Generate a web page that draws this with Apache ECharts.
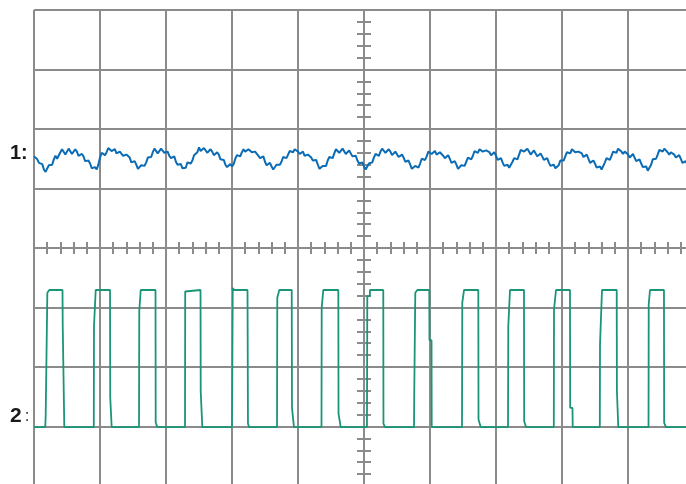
<!DOCTYPE html>
<html>
<head>
<meta charset="utf-8">
<script src="https://cdn.jsdelivr.net/npm/echarts@6/dist/echarts.min.js"></script>
<style>
html,body{margin:0;padding:0;background:#fff;}
#c{width:686px;height:484px;}
</style>
</head>
<body>
<div id="c"></div>
<script>
// Screen units: horizontal in divisions (0..10), vertical in divisions (-4..4)
var xDivTicks = [0, 10, 1];      // min, max, major interval
var yDivTicks = [-4, 4, 1];
var minorStep = 0.2;

// Channel 1 (blue) — sampled every 0.025 div, values in divisions
var ch1Step = 0.025;
var ch1Volt = [
1.54,1.56,1.49,1.43,1.44,1.41,1.32,1.28,1.30,1.39,1.40,1.40,1.49,1.55,1.50,1.52,1.61,1.66,1.64,1.57,
1.59,1.67,1.66,1.58,1.61,1.66,1.62,1.55,1.54,1.58,1.54,1.46,1.45,1.47,1.42,1.34,1.34,1.36,1.32,1.40,
1.52,1.60,1.59,1.56,1.61,1.68,1.69,1.63,1.64,1.66,1.59,1.57,1.62,1.63,1.55,1.52,1.57,1.58,1.52,1.44,
1.44,1.46,1.40,1.33,1.34,1.39,1.40,1.38,1.44,1.52,1.52,1.53,1.61,1.67,1.66,1.59,1.62,1.67,1.66,1.60,
1.61,1.62,1.55,1.51,1.54,1.54,1.45,1.40,1.42,1.41,1.34,1.32,1.35,1.44,1.45,1.42,1.47,1.56,1.57,1.61,
1.69,1.63,1.62,1.68,1.66,1.60,1.62,1.66,1.62,1.56,1.57,1.61,1.57,1.49,1.49,1.48,1.40,1.36,1.39,1.41,
1.37,1.41,1.50,1.56,1.54,1.54,1.61,1.66,1.62,1.60,1.66,1.67,1.61,1.58,1.62,1.63,1.55,1.51,1.54,1.54,
1.45,1.39,1.40,1.43,1.37,1.32,1.32,1.40,1.42,1.40,1.45,1.53,1.52,1.51,1.57,1.63,1.61,1.61,1.66,1.67,
1.62,1.58,1.61,1.62,1.55,1.52,1.57,1.59,1.52,1.47,1.50,1.48,1.40,1.33,1.32,1.38,1.37,1.38,1.47,1.53,
1.50,1.51,1.59,1.66,1.66,1.60,1.62,1.67,1.64,1.58,1.59,1.64,1.61,1.54,1.54,1.55,1.47,1.42,1.45,1.44,
1.37,1.32,1.34,1.42,1.44,1.44,1.52,1.58,1.55,1.55,1.62,1.67,1.66,1.60,1.61,1.66,1.62,1.56,1.57,1.62,
1.59,1.53,1.54,1.57,1.52,1.45,1.45,1.47,1.40,1.33,1.32,1.38,1.35,1.35,1.42,1.50,1.49,1.48,1.54,1.62,
1.62,1.58,1.61,1.63,1.57,1.55,1.61,1.62,1.55,1.51,1.54,1.56,1.50,1.43,1.44,1.46,1.40,1.33,1.32,1.39,
1.39,1.38,1.45,1.52,1.50,1.49,1.55,1.63,1.62,1.60,1.66,1.67,1.62,1.59,1.64,1.67,1.61,1.56,1.59,1.61,
1.55,1.48,1.49,1.51,1.44,1.38,1.39,1.40,1.35,1.36,1.45,1.51,1.49,1.49,1.57,1.65,1.67,1.62,1.64,1.67,
1.62,1.57,1.59,1.64,1.61,1.54,1.55,1.59,1.54,1.48,1.49,1.51,1.44,1.38,1.40,1.40,1.34,1.33,1.39,1.47,
1.47,1.47,1.54,1.61,1.59,1.59,1.66,1.67,1.61,1.58,1.62,1.65,1.59,1.53,1.55,1.57,1.50,1.43,1.44,1.47,
1.42,1.35,1.35,1.37,1.32,1.34,1.44,1.51,1.49,1.48,1.55,1.62,1.61,1.60,1.67,1.68,1.62,1.58,1.62,1.64,
1.57,1.52,1.55,1.58,1.52,1.46,1.47,1.49,1.42,1.36,1.37,1.37,1.30,1.32,1.40,1.49,1.50,1.50,1.57,1.65,
1.64,1.62,1.67,1.67,1.61,1.57,1.61,1.63,1.57,1.52,1.54,1.56,1.50,1.43,1.44,1.46,1.40
];

// Channel 2 (green) — [time div, level div]
var ch2Points = [
[0,-3.01],[0.170,-3.01],[0.177,-2.827],[0.197,-2.827],[0.202,-0.753],[0.227,-0.748],[0.232,-0.706],
[0.432,-0.706],[0.435,-1.286],[0.455,-1.286],[0.459,-3.01],
[0.906,-3.01],[0.909,-1.314],[0.932,-1.314],[0.935,-0.706],
[1.152,-0.706],[1.155,-2.513],[1.174,-2.513],[1.177,-3.01],
[1.591,-3.01],[1.595,-1.062],[1.614,-1.062],[1.617,-0.706],
[1.841,-0.706],[1.844,-2.933],[1.864,-2.933],[1.868,-3.01],
[2.288,-3.01],[2.291,-0.731],[2.303,-0.706],
[2.523,-0.706],[2.526,-2.407],[2.545,-2.407],[2.550,-3.01],
[3.000,-3.01],[3.011,-0.672],[3.030,-0.706],
[3.235,-0.706],[3.242,-2.950],[3.258,-3.01],
[3.682,-3.01],[3.686,-0.837],[3.712,-0.837],[3.717,-0.706],
[3.905,-0.706],[3.909,-2.686],[3.936,-2.686],[3.939,-3.01],
[4.356,-3.01],[4.359,-1.005],[4.379,-1.005],[4.383,-0.706],
[4.611,-0.706],[4.614,-2.782],[4.644,-2.782],[4.647,-3.01],
[5.045,-3.01],[5.050,-0.810],[5.088,-0.810],[5.091,-0.706],
[5.292,-0.706],[5.295,-2.950],[5.318,-3.01],
[5.758,-3.01],[5.761,-2.491],[5.776,-2.491],[5.777,-0.753],[5.803,-0.753],[5.808,-0.706],
[5.989,-0.706],[5.992,-1.550],[6.023,-1.550],[6.026,-3.01],
[6.485,-3.01],[6.489,-0.921],[6.512,-0.921],[6.515,-0.706],
[6.732,-0.706],[6.735,-2.882],[6.765,-2.882],[6.768,-3.01],
[7.182,-3.01],[7.186,-1.314],[7.209,-1.314],[7.212,-0.706],
[7.424,-0.706],[7.427,-2.911],[7.452,-2.911],[7.455,-3.01],
[7.876,-3.01],[7.879,-1.034],[7.906,-1.034],[7.909,-0.706],
[8.121,-0.706],[8.124,-2.686],[8.159,-2.686],[8.162,-3.01],
[8.573,-3.01],[8.576,-1.622],[8.603,-1.622],[8.606,-0.706],
[8.829,-0.706],[8.832,-2.407],[8.850,-2.407],[8.853,-3.01],
[9.311,-3.01],[9.314,-0.950],[9.330,-0.950],[9.333,-0.706],
[9.545,-0.706],[9.548,-2.938],[9.573,-2.938],[9.576,-3.01],
[9.939,-3.01]
];

// Faint marker trace at the 3rd division
var markerPoints = [[3.0,-0.706],[3.0,-3.01]];

var ch1Data = ch1Volt.map(function(v, i){ return [+(i*ch1Step).toFixed(4), v]; });

var gridColor = '#8b8b8b';

function minorX(inside){
  return {type:'value', min:xDivTicks[0], max:xDivTicks[1], interval:minorStep,
    position:'bottom', offset:-238, gridIndex:0,
    axisLine:{show:false}, axisLabel:{show:false}, splitLine:{show:false},
    axisTick:{show:true, inside:inside, length:6, lineStyle:{color:gridColor, width:2}}};
}
function minorY(inside){
  return {type:'value', min:yDivTicks[0], max:yDivTicks[1], interval:minorStep,
    position:'left', offset:-330, gridIndex:0,
    axisLine:{show:false}, axisLabel:{show:false}, splitLine:{show:false},
    axisTick:{show:true, inside:inside, length:7, lineStyle:{color:gridColor, width:2}}};
}

var chart = echarts.init(document.getElementById('c'), null, {renderer:'canvas'});
chart.setOption({
  animation:false,
  backgroundColor:'#ffffff',
  grid:{left:34, top:10, width:660, height:476, containLabel:false, outerBoundsMode:'none'},
  xAxis:[
    {type:'value', min:xDivTicks[0], max:xDivTicks[1], interval:xDivTicks[2],
     axisLine:{show:false}, axisTick:{show:false}, axisLabel:{show:false},
     splitLine:{show:true, lineStyle:{color:gridColor, width:2}}},
    minorX(true), minorX(false)
  ],
  yAxis:[
    {type:'value', min:yDivTicks[0], max:yDivTicks[1], interval:yDivTicks[2],
     axisLine:{show:false}, axisTick:{show:false}, axisLabel:{show:false},
     splitLine:{show:true, lineStyle:{color:gridColor, width:2}}},
    minorY(true), minorY(false)
  ],
  graphic:[
    {type:'text', left:10, top:143, style:{text:'{b|1:}', rich:{b:{fontFamily:'Liberation Sans, Arial, sans-serif', fontWeight:'bold', fontSize:20, fill:'#1a1a1a'}}}},
    {type:'text', left:10, top:406, style:{text:'{b|2}{r|:}', rich:{
      b:{fontFamily:'Liberation Sans, Arial, sans-serif', fontWeight:'bold', fontSize:21, fill:'#1a1a1a'},
      r:{fontFamily:'Liberation Sans, Arial, sans-serif', fontWeight:'normal', fontSize:17, fill:'#333', padding:[0,0,0,3]}}}}
  ],
  series:[
    {type:'line', name:'markerTrace', data:markerPoints, showSymbol:false, silent:true,
     lineStyle:{color:'#a4a6e2', width:2}, z:3},
    {type:'line', name:'ch2', data:ch2Points, showSymbol:false, silent:true,
     lineStyle:{color:'#1b9577', width:1.8}, z:4},
    {type:'line', name:'ch1', data:ch1Data, showSymbol:false, silent:true,
     lineStyle:{color:'#0b6cb5', width:2}, z:5}
  ]
});
</script>
</body>
</html>
